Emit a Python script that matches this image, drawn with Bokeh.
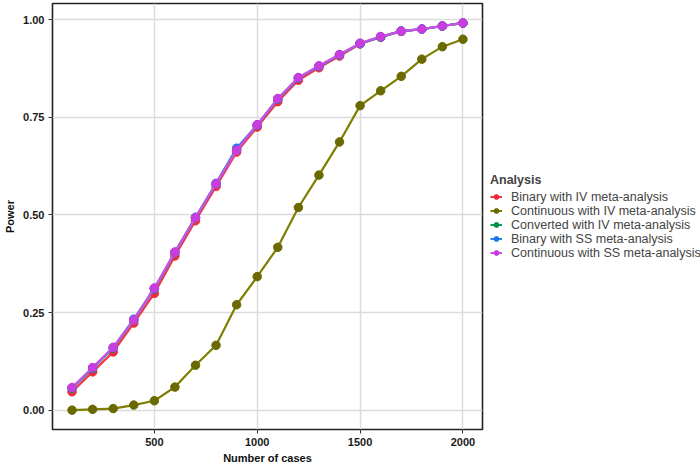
from bokeh.plotting import figure
from bokeh.models import Range1d, FixedTicker, NumeralTickFormatter, Legend, LegendItem
from bokeh.embed import file_html
from bokeh.resources import INLINE

cases = [100, 200, 300, 400, 500, 600, 700, 800, 900, 1000,
         1100, 1200, 1300, 1400, 1500, 1600, 1700, 1800, 1900, 2000]

binary_iv = [0.047, 0.098, 0.149, 0.223, 0.299, 0.395, 0.485, 0.573, 0.661, 0.725,
             0.790, 0.845, 0.877, 0.907, 0.938, 0.955, 0.970, 0.976, 0.984, 0.991]
continuous_iv = [0.000, 0.002, 0.004, 0.013, 0.024, 0.059, 0.115, 0.166, 0.270, 0.342,
                 0.417, 0.519, 0.602, 0.687, 0.780, 0.818, 0.855, 0.899, 0.931, 0.950]
converted_iv = [0.056, 0.107, 0.159, 0.231, 0.311, 0.404, 0.493, 0.580, 0.668, 0.730,
                0.797, 0.851, 0.881, 0.910, 0.939, 0.956, 0.971, 0.976, 0.984, 0.992]
binary_ss = [0.057, 0.108, 0.160, 0.233, 0.311, 0.404, 0.494, 0.581, 0.671, 0.731,
             0.797, 0.851, 0.881, 0.910, 0.939, 0.956, 0.971, 0.976, 0.984, 0.992]
continuous_ss = [0.058, 0.109, 0.161, 0.231, 0.313, 0.405, 0.493, 0.580, 0.666, 0.731,
                 0.798, 0.852, 0.882, 0.911, 0.940, 0.957, 0.971, 0.976, 0.984, 0.992]

series_names = ["Binary with IV meta-analysis", "Continuous with IV meta-analysis",
                "Converted with IV meta-analysis", "Binary with SS meta-analysis",
                "Continuous with SS meta-analysis"]
series_values = [binary_iv, continuous_iv, converted_iv, binary_ss, continuous_ss]
line_colors = ["#EE3A45", "#7E7E00", "#00A050", "#2A7FEF", "#D24FE6"]
point_colors = ["#EE2C3A", "#6A6A00", "#009045", "#1A78EE", "#C93CDE"]

x_ticks = [500, 1000, 1500, 2000]
y_ticks = [0.0, 0.25, 0.5, 0.75, 1.0]

FONT = "Liberation Sans"

p = figure(frame_width=430, frame_height=426, output_backend="svg", toolbar_location=None,
           x_range=Range1d(5, 2095), y_range=Range1d(-0.0496, 1.0416),
           min_border_left=52, min_border_right=0, min_border_top=3, min_border_bottom=34)

p.outline_line_color = "#222222"
p.outline_line_width = 1.6
p.background_fill_color = "white"

for ax in (p.xaxis[0], p.yaxis[0]):
    ax.axis_line_color = None
    ax.major_tick_line_color = "#333333"
    ax.major_tick_in = 0
    ax.major_tick_out = 4
    ax.minor_tick_line_color = None
    ax.major_label_text_font = FONT
    ax.major_label_text_font_size = "11px"
    ax.major_label_text_color = "#1a1a1a"
    ax.major_label_text_font_style = "bold"
    ax.axis_label_text_font = FONT
    ax.axis_label_text_font_size = "11px"
    ax.axis_label_text_font_style = "bold"
    ax.axis_label_text_color = "#111111"
    ax.major_label_standoff = 4
    ax.axis_label_standoff = 3

p.xaxis.ticker = FixedTicker(ticks=x_ticks)
p.yaxis.ticker = FixedTicker(ticks=y_ticks)
p.yaxis.formatter = NumeralTickFormatter(format="0.00")
p.xaxis.axis_label = "Number of cases"
p.yaxis.axis_label = "Power"
p.yaxis.axis_label_standoff = 4

p.xgrid.grid_line_color = "#DCDCDC"
p.ygrid.grid_line_color = "#DCDCDC"
p.xgrid.grid_line_width = 1.5
p.ygrid.grid_line_width = 1.5

items = []
for name, vals, lc, pc in zip(series_names, series_values, line_colors, point_colors):
    r1 = p.line(cases, vals, line_color=lc, line_width=2.2)
    r2 = p.scatter(cases, vals, size=8.5, fill_color=pc, line_color=pc)
    items.append(LegendItem(label=name, renderers=[r1, r2]))

legend = Legend(items=items, location="center_left", title="Analysis",
                title_text_font=FONT, title_text_font_size="12.5px", title_text_font_style="bold",
                label_text_font=FONT, label_text_font_size="12.5px",
                label_height=12, glyph_height=12, glyph_width=12, spacing=0,
                label_standoff=9, padding=2, margin=8, title_standoff=3,
                border_line_color=None, background_fill_alpha=0)
p.add_layout(legend, "right")

open("out.html", "w").write(file_html(p, INLINE))
